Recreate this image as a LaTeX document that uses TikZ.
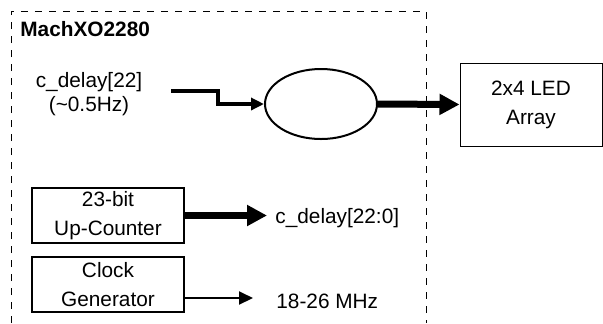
\documentclass[tikz,border=0pt]{standalone}
\usepackage{fontspec}
\setmainfont{Liberation Sans}
\usetikzlibrary{arrows.meta,shapes.geometric}

\begin{document}
\begin{tikzpicture}[x=0.5pt,y=-0.5pt,
  font=\fontsize{10.4}{14.5}\selectfont,
  block/.style={draw,line width=0.6pt,inner sep=0pt,align=center,
    minimum width=76pt,minimum height=27.5pt},
  bus/.style={line width=3.5pt,-{Triangle[length=10pt,width=10pt]}},
  sig/.style={line width=2pt,-{Triangle[length=6.5pt,width=6pt]}},
  wire/.style={line width=1pt,-{Triangle[length=7pt,width=6.5pt]}},
  label/.style={anchor=base west,inner sep=0pt}]
\useasboundingbox (0,0) rectangle (603,323);
% chip outline, open at the bottom
\draw[line width=0.5pt,dash pattern=on 3.7pt off 3.3pt] (11,323) |- (426,11) -- (426,323);
\node[label,font={\fontsize{10.4}{14.5}\selectfont\bfseries}] (title) at (20,36) {MachXO2280};
% blocks
\node[ellipse,draw,line width=1pt,minimum width=56pt,minimum height=35pt,inner sep=0pt] (mux) at (321,104) {};
\node[block,line width=0.5pt,minimum width=71pt,minimum height=41.5pt] (led) at (531,104.5) {2x4 LED\\Array};
\node[block] (counter) at (108,215.5) {23-bit\\Up-Counter};
\node[block] (clkgen) at (108,284.5) {Clock\\Generator};
% signals
\node[align=center,inner sep=0pt,font=\fontsize{10.4}{12}\selectfont] (tap-lbl) at (89,94.5) {c\_delay[22]\\(\textasciitilde0.5Hz)};
\coordinate (tap) at (171,91);
\draw[sig] (tap) -- (218,91) |- (mux.west);
\draw[bus] (mux.east) -- (led.west);
\coordinate (cnt-out) at (267,215.5);
\draw[bus] (counter.east) -- (cnt-out);
\node[label] (cnt-lbl) at (275,223) {c\_delay[22:0]};
\coordinate (clk-out) at (253,298);
\draw[wire] (clkgen.east |- clk-out) -- (clk-out);
\node[label] (clk-lbl) at (276,308) {18-26 MHz};
\end{tikzpicture}
\end{document}
